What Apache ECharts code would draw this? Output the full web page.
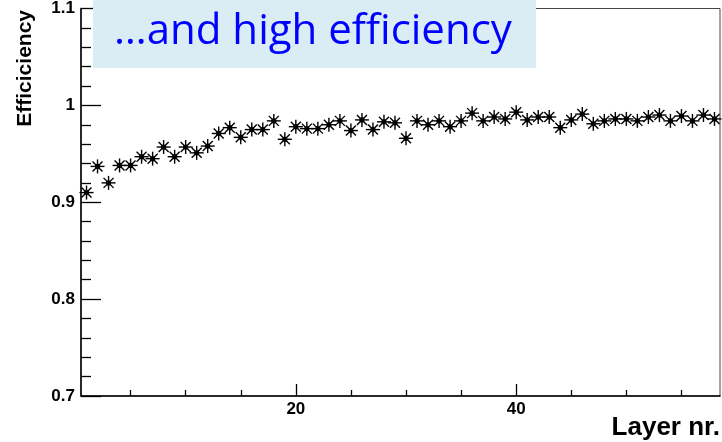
<!DOCTYPE html>
<html>
<head>
<meta charset="utf-8">
<script src="https://cdn.jsdelivr.net/npm/echarts@6/dist/echarts.min.js"></script>
<style>
  html, body { margin: 0; padding: 0; background: #fff; }
  #chart { width: 722px; height: 442px; }
</style>
</head>
<body>
<div id="chart"></div>
<script>
// Layer numbers and the measured efficiency of each layer
const layers = [
  1, 2, 3, 4, 5, 6, 7, 8, 9, 10,
  11, 12, 13, 14, 15, 16, 17, 18, 19, 20,
  21, 22, 23, 24, 25, 26, 27, 28, 29, 30,
  31, 32, 33, 34, 35, 36, 37, 38, 39, 40,
  41, 42, 43, 44, 45, 46, 47, 48, 49, 50,
  51, 52, 53, 54, 55, 56, 57, 58
];
const efficiency = [
  0.910, 0.937, 0.920, 0.938, 0.938, 0.947, 0.945, 0.957, 0.947, 0.957,
  0.951, 0.958, 0.971, 0.977, 0.967, 0.975, 0.975, 0.984, 0.965, 0.978,
  0.976, 0.976, 0.980, 0.984, 0.974, 0.985, 0.975, 0.983, 0.982, 0.966,
  0.984, 0.980, 0.984, 0.978, 0.984, 0.992, 0.984, 0.988, 0.986, 0.993,
  0.985, 0.988, 0.988, 0.977, 0.985, 0.991, 0.981, 0.984, 0.986, 0.986,
  0.984, 0.988, 0.990, 0.984, 0.989, 0.984, 0.990, 0.986
];

// Axis ranges and tick positions
const xRange = [0.5, 58.5];
const xMajorTicks = [20, 40];
const xMinorTicks = [5, 10, 15, 25, 30, 35, 45, 50, 55];
const yRange = [0.7, 1.1];

const points = layers.map((l, i) => [l, efficiency[i]]);

const labelFont = 'Liberation Sans, Arial, Helvetica, sans-serif';

const chart = echarts.init(document.getElementById('chart'), null, { renderer: 'canvas' });

// Asterisk marker: four crossing strokes with a filled centre dot
function renderStar(params, api) {
  const p = api.coord([api.value(0), api.value(1)]);
  const a = 7, d = 5;
  const stroke = { stroke: '#000', lineWidth: 1.4 };
  const seg = (x1, y1, x2, y2) => ({
    type: 'line',
    shape: { x1: p[0] + x1, y1: p[1] + y1, x2: p[0] + x2, y2: p[1] + y2 },
    style: stroke
  });
  return {
    type: 'group',
    children: [
      seg(-a, 0, a, 0),
      seg(0, -a, 0, a),
      seg(-d, -d, d, d),
      seg(-d, d, d, -d),
      { type: 'circle', shape: { cx: p[0], cy: p[1], r: 2.6 }, style: { fill: '#000' } }
    ]
  };
}

chart.setOption({
  animation: false,
  backgroundColor: '#fff',
  grid: {
    left: 81, top: 8, width: 639, height: 388,
    show: true, borderColor: '#444', borderWidth: 1, backgroundColor: 'transparent'
  },
  xAxis: [
    {
      type: 'value', min: xRange[0], max: xRange[1],
      axisLine: { show: true, lineStyle: { color: '#000', width: 1.5 } },
      axisTick: { show: true, inside: true, length: 12, customValues: xMajorTicks, lineStyle: { color: '#000', width: 1.3 } },
      axisLabel: {
        show: true, customValues: xMajorTicks, margin: 5,
        color: '#000', fontFamily: labelFont, fontWeight: 'bold', fontSize: 17
      },
      splitLine: { show: false }
    },
    {
      type: 'value', min: xRange[0], max: xRange[1], position: 'bottom',
      axisLine: { show: false },
      axisTick: { show: true, inside: true, length: 6, customValues: xMinorTicks, lineStyle: { color: '#000', width: 1.3 } },
      axisLabel: { show: false },
      splitLine: { show: false }
    }
  ],
  yAxis: {
    type: 'value', min: yRange[0], max: yRange[1], interval: 0.1,
    axisLine: { show: true, lineStyle: { color: '#000', width: 1.5 } },
    axisTick: { show: true, inside: true, length: 20, lineStyle: { color: '#000', width: 1.3 } },
    minorTick: { show: true, splitNumber: 5, length: 10, lineStyle: { color: '#000', width: 1.3 } },
    axisLabel: {
      margin: 6, color: '#000', fontFamily: labelFont, fontWeight: 'bold', fontSize: 17,
      padding: [3, 0, 0, 0],
      formatter: v => String(parseFloat(v.toFixed(2)))
    },
    splitLine: { show: false }
  },
  series: [{
    type: 'custom',
    xAxisIndex: 0,
    yAxisIndex: 0,
    renderItem: renderStar,
    data: points,
    clip: false,
    z: 5
  }],
  graphic: [
    {
      type: 'rect', z: 100,
      shape: { x: 93, y: 0, width: 443, height: 68 },
      style: { fill: '#daedf4' }
    },
    {
      type: 'text', z: 101, x: 114, y: 32,
      style: {
        text: '…and high efficiency', fill: '#0000ff',
        font: '42px "Open Sans", sans-serif',
        align: 'left', verticalAlign: 'middle'
      }
    },
    {
      type: 'text', z: 50, x: 25, y: 10, rotation: Math.PI / 2,
      style: {
        text: 'Efficiciency', fill: '#000',
        font: 'bold 21px ' + labelFont,
        align: 'right', verticalAlign: 'middle'
      }
    },
    {
      type: 'text', z: 50, x: 720, y: 428,
      style: {
        text: 'Layer nr.', fill: '#000',
        font: 'bold 26px ' + labelFont,
        align: 'right', verticalAlign: 'middle'
      }
    }
  ]
});
</script>
</body>
</html>
